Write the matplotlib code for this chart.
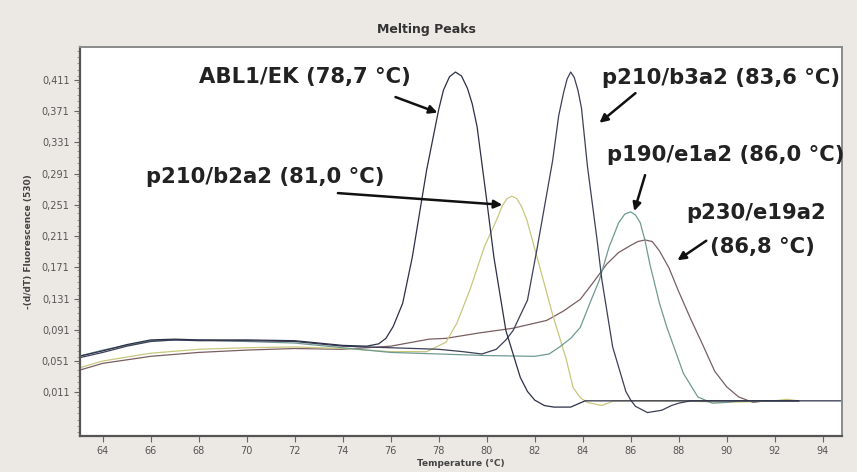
import matplotlib
matplotlib.use("Agg")
import matplotlib.pyplot as plt
from matplotlib.ticker import FixedLocator, MultipleLocator

# melting peak curves: temperature (°C), -(d/dT) fluorescence
abl1_t = [63.0, 64.0, 65.0, 66.0, 67.0, 68.0, 70.0, 72.0, 74.0, 75.0, 75.5, 75.8, 76.1, 76.5, 76.9,
          77.5, 78.0, 78.2, 78.45, 78.7, 78.95, 79.2, 79.4, 79.6, 80.0, 80.3, 80.8, 81.4, 81.7, 82.0,
          82.4, 82.8, 83.5, 83.8, 84.1, 88.0, 92.0, 94.8]
abl1_v = [0.057, 0.064, 0.072, 0.078, 0.079, 0.078, 0.078, 0.077, 0.071, 0.070, 0.073, 0.080, 0.095,
          0.125, 0.184, 0.296, 0.373, 0.398, 0.415, 0.421, 0.416, 0.400, 0.380, 0.351, 0.257, 0.184,
          0.090, 0.030, 0.012, 0.001, -0.006, -0.008, -0.008, -0.004, 0.0, 0.0, 0.0, 0.0]

b3a2_t = [63.0, 64.0, 65.0, 66.0, 67.0, 68.0, 70.0, 72.0, 74.0, 76.0, 78.0, 79.0, 79.8, 80.4, 80.8,
          81.1, 81.7, 82.1, 82.75, 83.0, 83.2, 83.35, 83.5, 83.65, 83.8, 83.95, 84.2, 84.6, 84.8,
          85.25, 85.8, 86.0, 86.2, 86.7, 87.3, 87.7, 88.0, 88.5, 93.0]
b3a2_v = [0.055, 0.062, 0.070, 0.076, 0.078, 0.077, 0.077, 0.076, 0.070, 0.068, 0.066, 0.063, 0.060,
          0.066, 0.078, 0.090, 0.129, 0.195, 0.308, 0.365, 0.394, 0.412, 0.421, 0.414, 0.398, 0.375,
          0.300, 0.206, 0.155, 0.069, 0.012, 0.001, -0.007, -0.015, -0.012, -0.006, -0.003, 0.0, 0.0]

b2a2_t = [63.0, 64.0, 66.0, 68.0, 70.0, 72.0, 74.0, 76.0, 77.5, 78.3, 78.75, 79.3, 79.9, 80.46, 80.65,
          80.85, 81.05, 81.25, 81.45, 81.67, 82.0, 82.4, 82.75, 83.3, 83.6, 83.9, 84.2, 84.8, 85.3,
          88.0, 90.0, 92.0, 92.5, 93.0]
b2a2_v = [0.042, 0.051, 0.061, 0.066, 0.068, 0.069, 0.067, 0.063, 0.063, 0.075, 0.099, 0.142, 0.197,
          0.235, 0.250, 0.259, 0.262, 0.259, 0.249, 0.232, 0.195, 0.150, 0.110, 0.055, 0.017, 0.004,
          -0.002, -0.006, 0.0, 0.0, -0.002, 0.0, 0.002, 0.0]

e1a2_t = [63.0, 64.0, 66.0, 68.0, 70.0, 72.0, 74.0, 76.0, 78.0, 80.0, 82.0, 82.6, 83.04, 83.5, 83.9,
          84.3, 84.7, 85.1, 85.5, 85.75, 86.0, 86.2, 86.4, 86.6, 86.8, 87.2, 87.5, 88.2, 88.8, 89.4,
          90.0, 90.5, 93.0]
e1a2_v = [0.057, 0.065, 0.077, 0.078, 0.076, 0.074, 0.068, 0.062, 0.060, 0.058, 0.057, 0.060, 0.069,
          0.080, 0.094, 0.125, 0.155, 0.197, 0.228, 0.239, 0.242, 0.238, 0.228, 0.205, 0.175, 0.125,
          0.095, 0.035, 0.005, -0.003, -0.002, 0.0, 0.0]

e19a2_t = [63.0, 64.0, 66.0, 68.0, 70.0, 72.0, 74.0, 76.0, 77.6, 78.3, 79.7, 81.1, 82.5, 83.2, 83.9,
           84.4, 85.0, 85.5, 86.0, 86.3, 86.6, 86.9, 87.2, 87.6, 88.0, 88.5, 89.0, 89.5, 90.0, 90.5,
           91.1, 91.6, 93.0]
e19a2_v = [0.039, 0.048, 0.057, 0.062, 0.065, 0.067, 0.066, 0.070, 0.079, 0.080, 0.087, 0.093, 0.103,
           0.115, 0.130, 0.150, 0.175, 0.190, 0.199, 0.204, 0.206, 0.204, 0.192, 0.170, 0.140, 0.105,
           0.072, 0.038, 0.018, 0.005, -0.002, 0.0, 0.0]

y_ticks = [0.011, 0.051, 0.091, 0.131, 0.171, 0.211, 0.251, 0.291, 0.331, 0.371, 0.411]
x_ticks = [64, 66, 68, 70, 72, 74, 76, 78, 80, 82, 84, 86, 88, 90, 92, 94]

# label text, text position (T, value), arrow tail, arrow head
labels = [
    ("ABL1/EK (78,7 °C)", (68.0, 0.415), (76.2, 0.389), (77.95, 0.369)),
    ("p210/b2a2 (81,0 °C)", (65.8, 0.287), (73.8, 0.266), (80.65, 0.251)),
    ("p210/b3a2 (83,6 °C)", (84.8, 0.414), (86.2, 0.394), (84.7, 0.356)),
    ("p190/e1a2 (86,0 °C)", (85.0, 0.315), (86.6, 0.289), (86.15, 0.243)),
    ("p230/e19a2", (88.3, 0.240), None, None),
    ("(86,8 °C)", (89.3, 0.197), (89.15, 0.205), (87.95, 0.180)),
]

fig = plt.figure(figsize=(8.57, 4.72), dpi=100)
fig.patch.set_facecolor("#ece9e4")
ax = fig.add_axes([0.0933, 0.0763, 0.889, 0.824])
ax.set_facecolor("white")

ax.plot(e19a2_t, e19a2_v, color="#7a5e62", lw=0.9)
ax.plot(b2a2_t, b2a2_v, color="#c9c77e", lw=0.9)
ax.plot(e1a2_t, e1a2_v, color="#6f9a92", lw=0.9)
ax.plot(b3a2_t, b3a2_v, color="#3c3f58", lw=0.9)
ax.plot(abl1_t, abl1_v, color="#2c2f48", lw=0.9)

ax.set_xlim(63.05, 94.8)
ax.set_ylim(-0.045, 0.453)
ax.yaxis.set_major_locator(FixedLocator(y_ticks))
ax.set_yticklabels([f"{v:.3f}".replace(".", ",") for v in y_ticks])
ax.yaxis.set_minor_locator(MultipleLocator(0.008))
ax.xaxis.set_major_locator(FixedLocator(x_ticks))
ax.set_xticklabels([str(x) for x in x_ticks])
ax.tick_params(axis="both", which="major", labelsize=7, labelcolor="#555555", color="#666666",
               length=4, width=0.8)
ax.tick_params(axis="y", which="minor", length=2, width=0.6, color="#888888")

for side in ["left", "bottom"]:
    ax.spines[side].set_color("#555555")
    ax.spines[side].set_linewidth(1.6)
for side in ["top", "right"]:
    ax.spines[side].set_color("#8a8a8a")
    ax.spines[side].set_linewidth(1.4)

fig.text(0.498, 0.938, "Melting Peaks", ha="center", va="center", fontsize=9,
         fontweight="bold", color="#333333")
ax.set_xlabel("Temperature (°C)", fontsize=6.5, fontweight="bold", color="#444444", labelpad=2)
ax.set_ylabel("-(d/dT) Fluorescence (530)", fontsize=6.5, fontweight="bold", color="#444444",
              labelpad=6)

for text, pos, tail, head in labels:
    ax.text(pos[0], pos[1], text, ha="left", va="center", fontsize=15.2, fontweight="bold",
            family="DejaVu Sans", color="#222222")
    if tail is not None:
        ax.annotate("", xy=head, xytext=tail,
                    arrowprops=dict(arrowstyle="-|>", color="#111111", lw=1.8,
                                    mutation_scale=12, shrinkA=0, shrinkB=0))

fig.savefig("out.png", dpi=100, facecolor=fig.get_facecolor())
